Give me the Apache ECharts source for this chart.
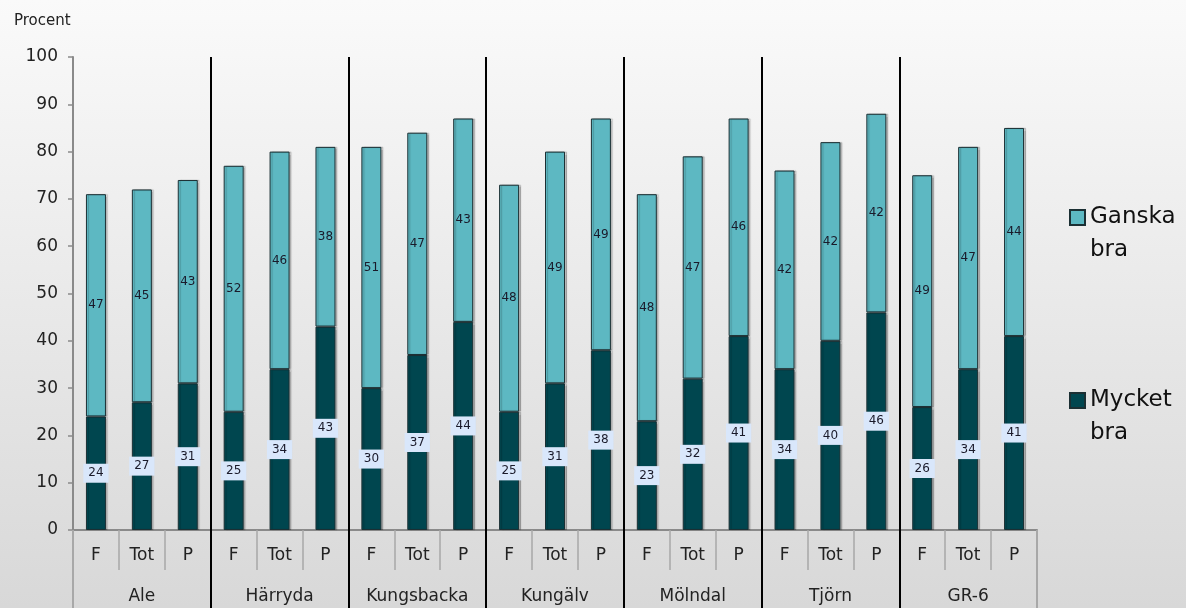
<!DOCTYPE html>
<html>
<head>
<meta charset="utf-8">
<script src="https://cdn.jsdelivr.net/npm/echarts@6/dist/echarts.min.js"></script>
<style>
  html, body { margin: 0; padding: 0; }
  #chart { width: 1186px; height: 608px; }
</style>
</head>
<body>
<div id="chart"></div>
<script>
// kategorier
const groups = ['Ale', 'Härryda', 'Kungsbacka', 'Kungälv', 'Mölndal', 'Tjörn', 'GR-6']
const subs = ['F', 'Tot', 'P']
const subLabels = groups.flatMap(() => subs)

// värden (procent)
const mycketBra = [24, 27, 31, 25, 34, 43, 30, 37, 44, 25, 31, 38, 23, 32, 41, 34, 40, 46, 26, 34, 41]
const ganskaBra = [47, 45, 43, 52, 46, 38, 51, 47, 43, 48, 49, 49, 48, 47, 46, 42, 42, 42, 49, 47, 44]

const yTicks = { min: 0, max: 100, interval: 10 }

const font = 'DejaVu Sans'
const darkColor = '#00464f'
const lightColor = '#5db8c2'

const chart = echarts.init(document.getElementById('chart'))

const legendText = {
  fontFamily: font,
  fontSize: 23,
  color: '#111',
  lineHeight: 33
}

// tom rad först så att ikonen hamnar vid första textraden
const legendFormatter = (name) => ' \n' + name.replace(' ', '\n')

chart.setOption({
  backgroundColor: new echarts.graphic.LinearGradient(0, 0, 0, 1, [
    { offset: 0, color: '#fafafa' },
    { offset: 1, color: '#d8d8d8' }
  ]),
  animation: false,
  title: {
    text: 'Procent',
    left: 9,
    top: 9,
    textStyle: { fontFamily: font, fontSize: 15, fontWeight: 'normal', color: '#222' }
  },
  grid: { left: 73, right: 149, top: 57, bottom: 78, containLabel: false },
  legend: [
    {
      data: ['Ganska bra'],
      orient: 'vertical',
      left: 1064,
      top: 163,
      icon: 'rect',
      itemWidth: 15,
      itemHeight: 15,
      selectedMode: false,
      formatter: legendFormatter,
      textStyle: legendText
    },
    {
      data: ['Mycket bra'],
      orient: 'vertical',
      left: 1064,
      top: 346,
      icon: 'rect',
      itemWidth: 15,
      itemHeight: 15,
      selectedMode: false,
      formatter: legendFormatter,
      textStyle: legendText
    }
  ],
  xAxis: [
    {
      type: 'category',
      data: subLabels,
      position: 'bottom',
      z: 1,
      axisLine: { lineStyle: { color: '#8a8a8a', width: 2 } },
      axisTick: { show: true, interval: 0, length: 40, lineStyle: { color: '#a8a8a8', width: 1.5 } },
      axisLabel: { interval: 0, margin: 17, fontFamily: font, fontSize: 17, color: '#222' },
      splitLine: { show: false }
    },
    {
      type: 'category',
      data: groups,
      position: 'bottom',
      z: 2,
      axisLine: { show: false },
      axisTick: { show: true, interval: 0, length: 80, lineStyle: { color: '#000', width: 2 } },
      axisLabel: { interval: 0, margin: 58, fontFamily: font, fontSize: 17, color: '#222' },
      splitLine: {
        show: true,
        interval: 0,
        showMinLine: false,
        showMaxLine: false,
        lineStyle: { color: '#000', width: 2 }
      }
    },
    {
      type: 'category',
      data: [''],
      position: 'bottom',
      z: 3,
      axisLine: { show: false },
      axisTick: { show: true, length: 80, lineStyle: { color: '#a8a8a8', width: 2 } },
      axisLabel: { show: false },
      splitLine: { show: false }
    }
  ],
  yAxis: {
    type: 'value',
    min: yTicks.min,
    max: yTicks.max,
    interval: yTicks.interval,
    axisLine: { show: true, lineStyle: { color: '#8a8a8a', width: 2 } },
    axisTick: { show: true, length: 5, lineStyle: { color: '#8a8a8a', width: 1.5 } },
    axisLabel: { margin: 15, fontFamily: font, fontSize: 17, color: '#222' },
    splitLine: { show: false }
  },
  series: [
    {
      name: 'Mycket bra',
      type: 'bar',
      stack: 'total',
      xAxisIndex: 0,
      data: mycketBra,
      barWidth: 20,
      itemStyle: {
        color: darkColor,
        borderColor: '#1b2f33',
        borderWidth: 1,
        shadowColor: 'rgba(0,0,0,0.2)',
        shadowOffsetX: 2,
        shadowOffsetY: 0,
        shadowBlur: 1
      },
      label: {
        show: true,
        position: 'inside',
        fontFamily: font,
        fontSize: 12,
        color: '#1a1a2a',
        backgroundColor: '#d9e7fb',
        padding: [4, 5, 3, 5]
      }
    },
    {
      name: 'Ganska bra',
      type: 'bar',
      stack: 'total',
      xAxisIndex: 0,
      data: ganskaBra,
      barWidth: 20,
      itemStyle: {
        color: lightColor,
        borderColor: '#1b2f33',
        borderWidth: 1,
        shadowColor: 'rgba(0,0,0,0.2)',
        shadowOffsetX: 2,
        shadowOffsetY: 0,
        shadowBlur: 1
      },
      label: {
        show: true,
        position: 'inside',
        fontFamily: font,
        fontSize: 12,
        color: '#1a1a2a'
      }
    }
  ]
})
</script>
</body>
</html>
